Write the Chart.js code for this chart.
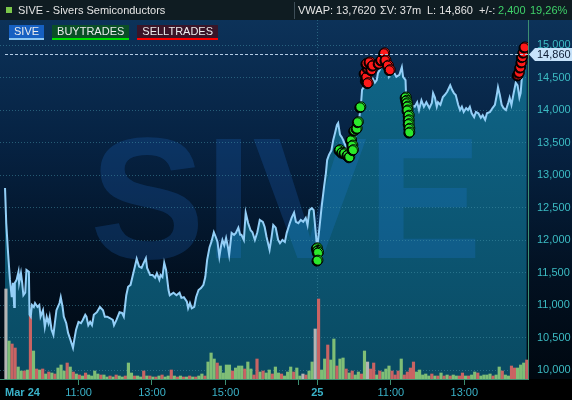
<!DOCTYPE html>
<html><head><meta charset="utf-8">
<script src="https://cdn.jsdelivr.net/npm/chart.js@4.4.1/dist/chart.umd.min.js"></script>
<style>
html,body{margin:0;padding:0;background:#000;}
#wrap{position:relative;width:572px;height:400px;overflow:hidden;font-family:'Liberation Sans',Arial,sans-serif;font-size:11px;}
canvas{position:absolute;left:0;top:0;}
#hdr{position:absolute;left:0;top:0;width:572px;height:20px;background:#0f1c22;color:#e4e4e4;}
#hdr span{position:absolute;top:3px;line-height:14px;white-space:pre;}
#hdr .sq{position:absolute;left:6px;top:7px;width:6px;height:6px;background:#7cc84a;}
#hdr .sep{position:absolute;left:294px;top:2px;width:1px;height:17px;background:#3e4e58;}
#hdr .g{color:#3fd26a;}
#leg{position:absolute;left:9px;top:25px;height:15px;}
#leg div{float:left;height:13px;line-height:13px;padding:0 5px;margin-right:8px;color:#ececec;border-bottom:2px solid;}
</style></head>
<body><div id="wrap"><canvas id="c" width="572" height="400"></canvas>
<div id="hdr"><div class="sq"></div><span style="left:18px">SIVE - Sivers Semiconductors</span><div class="sep"></div>
<span style="left:298px">VWAP: 13,7620</span><span style="left:380px">&Sigma;V: 37m</span><span style="left:427px">L: 14,860</span><span style="left:479px">+/-:</span><span class="g" style="left:498px">2,400</span><span class="g" style="left:530px">19,26%</span></div>
<div id="leg"><div style="background:#1660c2;border-color:#8ec8f2">SIVE</div><div style="background:#0a4f26;border-color:#00e000">BUYTRADES</div><div style="background:#3a1528;border-color:#ff0000">SELLTRADES</div></div>
</div>
<script>
// minutes since 09:00 Mar 24 (trading minutes; day 2 opens at 510)
const xTickVals   = [0, 120, 240, 360, 480, 510, 630, 750, 854];
const xTickLabels = ['Mar 24', '11:00', '13:00', '15:00', '', '25', '11:00', '13:00', ''];
const boldTicks   = [0, 510];
const yTicks = [10000, 10500, 11000, 11500, 12000, 12500, 13000, 13500, 14000, 14500, 15000];
const dayBreak = 510;
const lastPrice = 14860;
const watermarkText = 'SIVE';

const day1T = [0,2,5,8,11,13,15,16,19,22, 23,26,28,30,33,35,39,40,42,44, 47,49,53,56,58,62,65,68,71,73,
  76,79,82,84,89,91,94,96,100,103, 107,111,113,116,120,124,127,131,133,136, 139,142,145,150,155,160,163,167,171,176,
  178,182,187,191,194,198,201,205,208,212, 215,219,223,227,230,232,237,241,245,248, 252,254,257,260,263,267,269,275,280,285,
  288,292,297,299,302,305,309,312,316,320, 324,327,330,334,337,341,344,347,350,353, 355,358,361,364,366,370,374,377,381,384,
  386,390,393,397,401,404,408,412,416,421, 424,427,432,435,438,442,446,449,453,457, 460,463,465,468,472,475,479,483,487,491,
  494,497,501,504,507,509];
const day1V = [12800,12260,11800,11390,11120,11340,10970,11340,11390,11510, 11340,11490,11340,11150,11190,11540,11510,10850,10820,11000,
  10970,11030,10970,11000,10820,10920,10660,10820,10720,10820, 10620,10540,10770,10920,11030,11120,10970,10820,10720,10570,
  10460,10340,10460,10620,10740,10720,10770,10850,10820,10690, 10740,10690,10850,10890,10970,10920,10820,10820,10800,10770,
  10690,10770,10890,10880,10820,11150,11280,11310,11430,11590, 11710,11590,11570,11660,11720,11570,11460,11460,11420,11490,
  11390,11460,11430,11650,11540,11230,11150,11190,11150,11190, 11110,11120,11050,10950,11030,10950,10970,11120,11230,11260,
  11310,11430,11690,11890,11970,12120,12050,11970,11740,11920, 12000,11920,12030,11890,11770,12110,12080,12110,12190,12080,
  12080,12000,12420,12260,12150,12120,12000,12120,12310,12280, 12200,12050,11850,12030,12230,12190,12000,11950,12000,11970,
  12110,12200,12260,12340,12420,12280,12260,12310,12280,12340, 12230,12460,12490,12460,12150,11950];
const day2T = [510,513,517,521,524,526,529,533,536,539, 542,544,547,550,552,557,560,563,568,570, 573,575,578,581,583,585,588,591,596,600,
  604,607,609,612,615,618,622,625,627,631, 635,639,644,648,650,654,655,657,662,669, 673,676,680,684,688,693,697,699,702,705,
  707,711,715,718,722,727,730,733,736,740, 743,746,749,753,756,759,762,766,769,773, 777,780,784,787,792,796,800,803,805,808,
  811,814,818,822,824,827,830,834,837,840, 842,845,849,852];
const day2V = [11900,12150,12510,12820,13030,13230,13310,13380,13540,13650, 13770,13800,13620,13580,13540,13430,13340,13380,13430,13540,
  13620,13690,13850,14050,14310,14340,14350,14420,14460,14490, 14420,14460,14570,14620,14690,14650,14690,14620,14510,14570,
  14580,14510,14540,14660,14510,14460,14200,14120,14080,14050, 14120,14000,14150,14050,14120,14030,14110,14260,14190,14050,
  14120,14080,14200,14230,14280,14380,14310,14260,14230,14080, 14000,14050,13970,14030,14000,14050,13950,13890,13970,13950,
  13880,13920,13850,13950,13970,14030,14080,14230,14350,14230, 14080,14030,14000,14120,14190,14080,14230,14420,14380,14190,
  14260,14620,14770,14860];

const buyT = [510,511,512,511, 547,551,555,560,563,566,568,569,571,575,577,581, 655,656,657,658,658,660,660,660,661,661];
const buyV = [11880,11840,11810,11690, 13390,13350,13340,13310,13280,13540,13460,13390,13690,13720,13820,14050,
  14200,14150,14110,14060,14000,13920,13850,13790,13720,13660];
const sellT = [588,590,591,593,593,591,596,599,601,611,615,620,622,626,629, 838,840,842,844,845,847,849];
const sellV = [14570,14460,14510,14420,14650,14720,14740,14620,14690,14720,14770,14880,14770,14690,14620,
  14540,14580,14660,14740,14820,14890,14970];

// volume per 5-minute slot (relative units), side: b=buy, s=sell, n=neutral
const vol1 = [90,38,35,31,12,8,8,9,63,28, 10,9,10,5,7,6,5,11,14,8, 16,12,7,5,4,3,6,4,3,8, 5,4,4,2,3,2,4,3,2,3,
  16,6,3,3,2,8,3,3,2,2, 3,4,2,3,9,3,2,3,2,2, 3,2,2,3,5,3,17,26,20,16, 13,6,14,14,8,11,13,13,10,17,
  10,4,20,7,8,6,9,5,12,6, 5,3,7,12,7,11,3,5,4,8, 17,50];
const side1 = 'nbssbbsbsb' + 'sbsbsbsbbb' + 'sbsbsbsbbb' + 'bsbbsbsbbs' + 'bbsbbsbsbs' + 'bsbbsbsbsb' +
  'sbsbbsbbbs' + 'bbbbsbbbsb' + 'bssbsbbsbb' + 'sbbbsbbnsb' + 'bn';
const vol2 = [80,9,20,34,19,40,13,20,21,10, 6,8,4,7,5,28,17,10,16,4, 8,7,10,13,8,4,8,20,4,7, 11,17,7,9,4,5,3,5,3,3,
  6,3,4,3,4,3,3,6,3,3, 4,7,6,3,4,4,5,3,4,12, 8,4,3,13,11,11,14,16,19];
const side2 = 'sbbsbbsbbs' + 'bsbbsbnssb' + 'sbbbsssbss' + 'ssbbbbbsbs' + 'bsbsbbssbs' + 'bbsbbbbsbb' + 'sbbssbbbs';

const sideColor = {b: '#7fbe76', s: '#c96363', n: '#b4b4b4'};
const FONT = "'Liberation Sans', Arial, sans-serif";

const linePts = day1T.map((t, i) => ({x: t, y: day1V[i]})).concat(day2T.map((t, i) => ({x: t, y: day2V[i]})));
const buyPts = buyT.map((t, i) => ({x: t, y: buyV[i]}));
const sellPts = sellT.map((t, i) => ({x: t, y: sellV[i]}));
const volPts = [], volCols = [];
vol1.forEach((v, k) => { volPts.push({x: 5 * k + 1.5, y: v}); volCols.push(sideColor[side1[k]]); });
vol2.forEach((v, j) => { volPts.push({x: dayBreak + 5 * j + 2, y: v}); volCols.push(sideColor[side2[j]]); });

const FILL = 4;

const bgPlugin = {
  id: 'bg',
  beforeDraw(chart) {
    const {ctx, chartArea: ca} = chart;
    ctx.save();
    ctx.fillStyle = '#000';
    ctx.fillRect(0, 0, chart.width, chart.height);
    const g = ctx.createLinearGradient(0, ca.top, 0, ca.bottom);
    g.addColorStop(0, '#0c3259');
    g.addColorStop(0.35, '#062242');
    g.addColorStop(0.7, '#021122');
    g.addColorStop(1, '#000810');
    ctx.fillStyle = g;
    ctx.fillRect(0, ca.top, chart.width, ca.bottom - ca.top);
    ctx.restore();
  }
};

const overlayPlugin = {
  id: 'overlay',
  beforeDatasetDraw(chart, args) {
    if (args.index <= 1) {
      const ctx = chart.ctx;
      ctx.shadowColor = 'rgba(0,0,0,0.95)';
      ctx.shadowOffsetX = -1;
      ctx.shadowOffsetY = 1;
      ctx.shadowBlur = 0;
    }
  },
  afterDatasetDraw(chart, args) {
    const {ctx, chartArea: ca, scales} = chart;
    if (args.index <= 1) {
      ctx.shadowColor = 'rgba(0,0,0,0)';
      ctx.shadowOffsetX = 0;
      ctx.shadowOffsetY = 0;
      return;
    }
    if (args.index !== FILL) return;
    ctx.save();
    ctx.beginPath();
    ctx.rect(ca.left, ca.top, ca.right - ca.left, ca.bottom - ca.top);
    ctx.clip();
    ctx.font = 'bold 172px ' + FONT;
    ctx.fillStyle = 'rgba(40,135,250,0.18)';
    ctx.textBaseline = 'alphabetic';
    ctx.textAlign = 'left';
    ctx.fillText(watermarkText, 90, 258);
    ctx.strokeStyle = 'rgba(70,150,170,0.5)';
    ctx.lineWidth = 1;
    ctx.setLineDash([1, 2]);
    yTicks.forEach(v => {
      const y = Math.round(scales.y.getPixelForValue(v)) + 0.5;
      ctx.beginPath(); ctx.moveTo(ca.left, y); ctx.lineTo(ca.right, y); ctx.stroke();
    });
    const x = Math.round(scales.x.getPixelForValue(dayBreak)) + 0.5;
    ctx.beginPath(); ctx.moveTo(x, ca.top); ctx.lineTo(x, ca.bottom); ctx.stroke();
    ctx.restore();
  }
};

const lastPlugin = {
  id: 'last',
  afterDraw(chart) {
    const {ctx, chartArea: ca, scales} = chart;
    const y = Math.round(scales.y.getPixelForValue(lastPrice)) + 0.5;
    const x0 = scales.x.getPixelForValue(0);
    ctx.save();
    ctx.strokeStyle = '#b4cde6';
    ctx.lineWidth = 1;
    ctx.setLineDash([3, 2]);
    ctx.beginPath(); ctx.moveTo(x0, y); ctx.lineTo(ca.right, y); ctx.stroke();
    ctx.setLineDash([]);
    const bx = ca.right + 1, h = 13;
    ctx.fillStyle = '#c6e2fa';
    ctx.beginPath();
    ctx.moveTo(bx, y);
    ctx.lineTo(bx + 6, y - h / 2);
    ctx.lineTo(chart.width, y - h / 2);
    ctx.lineTo(chart.width, y + h / 2);
    ctx.lineTo(bx + 6, y + h / 2);
    ctx.closePath();
    ctx.fill();
    ctx.fillStyle = '#0c1c34';
    ctx.font = '11px ' + FONT;
    ctx.textBaseline = 'middle';
    ctx.textAlign = 'left';
    ctx.fillText(lastPrice.toLocaleString('en-US'), 537, y + 0.5);
    ctx.restore();
  }
};

const fillGrad = (c) => {
  const ca = c.chart.chartArea;
  if (!ca) return 'rgb(12,90,120)';
  const g = c.chart.ctx.createLinearGradient(0, ca.top, 0, ca.bottom);
  g.addColorStop(0, 'rgb(16,104,140)');
  g.addColorStop(1, 'rgb(9,74,98)');
  return g;
};

Chart.defaults.font.family = FONT;
Chart.defaults.font.size = 11;

new Chart(document.getElementById('c'), {
  type: 'line',
  data: {
    datasets: [
      {type: 'scatter', label: 'BUYTRADES', data: buyPts, backgroundColor: '#2be82b', borderColor: '#000', borderWidth: 1, pointRadius: 5, order: 0},
      {type: 'scatter', label: 'SELLTRADES', data: sellPts, backgroundColor: '#ff1a1a', borderColor: '#000', borderWidth: 1, pointRadius: 5, order: 0},
      {type: 'line', label: 'SIVE', data: linePts, borderColor: '#94cff7', borderWidth: 2, pointRadius: 0, fill: false, tension: 0, order: 1},
      {type: 'bar', label: 'vol', data: volPts, yAxisID: 'yv', backgroundColor: volCols, borderWidth: 0, barThickness: 2.5, grouped: false, order: 2},
      {type: 'line', label: 'area', data: linePts, borderWidth: 0, borderColor: 'rgba(0,0,0,0)', pointRadius: 0, fill: 'start', backgroundColor: fillGrad, tension: 0, order: 3}
    ]
  },
  options: {
    responsive: false,
    animation: false,
    events: [],
    layout: {autoPadding: false, padding: {top: 20, left: 0, right: 0, bottom: 0}},
    plugins: {legend: {display: false}, tooltip: {enabled: false}},
    scales: {
      x: {
        type: 'linear', min: -8.2, max: 854, offset: false,
        afterBuildTicks: s => { s.ticks = xTickVals.map(v => ({value: v})); },
        afterFit: s => { s.height = 21; },
        ticks: {
          autoSkip: false, maxRotation: 0, align: 'inner', padding: 1, color: '#3ab2c8',
          font: c => ({size: 11, weight: (c.tick && boldTicks.includes(c.tick.value)) ? 'bold' : 'normal'}),
          callback: (v, i) => xTickLabels[i]
        },
        grid: {
          offset: false, drawOnChartArea: false, drawTicks: true, tickLength: 6, color: 'rgba(0,0,0,0)',
          tickColor: c => (c.index === 0 || c.index === xTickVals.length - 1) ? 'rgba(0,0,0,0)' : '#3d8f72'
        },
        border: {display: true, color: '#3d8f72'}
      },
      y: {
        position: 'right', min: 9861.5, max: 15384.6,
        afterBuildTicks: s => { s.ticks = yTicks.map(v => ({value: v})); },
        afterFit: s => { s.width = 44; },
        ticks: {color: '#3cbcc4', padding: 9, callback: v => v.toLocaleString('en-US')},
        grid: {display: false, drawTicks: false},
        border: {display: true, color: '#3d8f72'}
      },
      yv: {display: false, min: 0, max: 359}
    }
  },
  plugins: [bgPlugin, overlayPlugin, lastPlugin]
});
</script>
</body></html>
